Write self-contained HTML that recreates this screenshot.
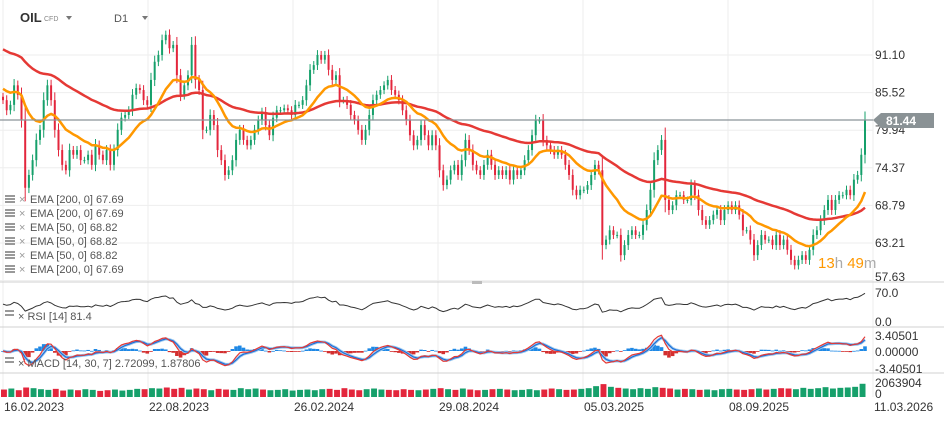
<!DOCTYPE html>
<html><head><meta charset="utf-8"><style>
html,body{margin:0;padding:0;background:#fff;}
svg{display:block;font-family:"Liberation Sans",Arial,sans-serif;}
</style></head><body>
<svg id="c" width="944" height="422" viewBox="0 0 944 422">
<g id="grid"></g>
<g id="panes">
<line x1="0" y1="282" x2="944" y2="282" stroke="#d0d0d0"/>
<line x1="0" y1="327" x2="944" y2="327" stroke="#d0d0d0"/>
<line x1="0" y1="373" x2="944" y2="373" stroke="#d0d0d0"/>
<rect x="472" y="281" width="10" height="3" fill="#bbb"/>
</g>
<g id="vol"></g>
<g id="macd"></g>
<g id="rsi"></g>
<g id="candles"></g>
<g id="emas"></g>
<line x1="0" y1="120" x2="873" y2="120" stroke="#8a9399" stroke-width="1.2"/>
<g id="axis" font-size="12" fill="#333"></g>
<g>
<polygon points="873,120 881,113 934,113 934,128 881,128" fill="#8a9295"/>
<text x="886" y="125" font-size="12" font-weight="bold" fill="#fff">81.44</text>
</g>
<g>
<text x="20" y="22" font-size="13" font-weight="bold" fill="#333">OIL</text>
<text x="44" y="21" font-size="7" fill="#888">CFD</text>
<polygon points="66,16 72,16 69,20" fill="#777"/>
<text x="114" y="22" font-size="11" fill="#555">D1</text>
<polygon points="142,16 148,16 145,20" fill="#777"/>
</g>
<g id="legend" font-size="11" fill="#555"></g>
<g font-size="15">
<text x="818" y="268"><tspan fill="#ff9800">13</tspan><tspan fill="#aaa">h </tspan><tspan fill="#ff9800">49</tspan><tspan fill="#aaa">m</tspan></text>
</g>
<g font-size="11" fill="#555">
<rect x="5" y="310" width="9" height="2" fill="#999"/><rect x="5" y="314" width="9" height="2" fill="#999"/>
<text x="18" y="320">× RSI [14] 81.4</text>
</g>
<g font-size="11" fill="#555">
<rect x="5" y="357" width="9" height="2" fill="#999"/><rect x="5" y="361" width="9" height="2" fill="#999"/>
<text x="18" y="367">× MACD [14, 30, 7] 2.72099, 1.87806</text>
</g>
<g id="dates" font-size="12" fill="#333"></g>
</svg>
<script>
const closes = [
84.4,82.9,83.7,86.6,85.2,81.4,71.4,73.3,75.5,78.5,
80.0,84.4,86.6,84.4,80.0,77.0,74.8,74.0,77.0,76.3,
77.0,75.5,75.5,76.3,74.8,77.7,76.3,75.5,77.0,74.8,
77.0,80.0,81.8,82.2,82.9,85.2,86.2,85.9,84.4,83.7,
87.4,90.1,91.1,93.3,94.1,92.1,92.6,88.1,85.2,86.6,
88.1,92.6,87.4,85.9,80.0,80.0,82.2,80.7,77.0,75.5,
73.3,74.0,75.5,78.5,80.0,78.5,77.7,78.5,80.0,81.4,
82.6,80.7,79.2,81.8,82.9,82.9,83.2,82.9,82.2,
83.7,83.7,84.4,86.6,88.9,89.6,91.1,90.4,91.1,88.9,
87.4,88.1,84.4,84.4,83.7,82.2,81.4,80.0,78.5,80.0,
82.2,84.4,85.2,85.9,86.6,87.4,85.9,85.2,84.4,82.9,
81.4,79.2,77.7,78.5,80.7,79.2,77.7,79.2,77.7,74.0,
71.8,72.6,74.0,74.8,73.3,75.5,78.5,77.0,74.8,74.0,
73.3,74.8,76.3,74.8,73.3,74.0,73.3,74.0,72.6,74.0,
73.3,74.0,75.5,77.0,79.2,81.4,81.4,78.5,77.7,77.0,
76.3,77.0,76.3,74.8,73.3,71.1,70.3,71.1,
71.1,71.8,73.3,74.8,74.0,62.9,63.7,65.1,64.4,64.4,
61.4,62.9,64.4,65.1,64.4,64.4,65.9,68.1,71.1,75.5,
77.0,78.5,69.6,68.1,68.8,70.3,70.3,69.6,69.6,71.8,
70.3,68.1,66.6,65.9,66.6,67.4,68.1,66.6,68.1,68.8,
68.1,68.8,67.4,65.1,65.1,63.7,61.4,62.9,64.4,63.7,
63.7,62.9,64.4,62.9,63.7,62.2,60.7,59.9,60.7,61.4,
60.7,62.2,64.4,65.1,66.6,68.1,69.6,68.1,69.6,70.3,
70.3,71.1,70.3,72.6,73.3,76.3,81.44];
const volumes = [
1100,1250,1000,1400,1300,1150,1050,1200,950,1100,
1000,1150,1050,900,1000,1100,950,1050,1200,1150,
1300,1250,1400,1200,1350,1100,1250,1150,1000,1200,
1100,1050,1300,1150,1250,1100,1000,1050,1150,950,
1050,1100,1000,1150,1200,1050,1300,1100,1000,1150,
1250,1100,1050,1000,1150,1050,1000,1100,1200,1300,
1150,1050,1250,1100,1000,1050,1150,1200,1100,1000,
1050,1150,1000,1100,1250,1150,1050,1100,1200,1300,
1600,1900,1500,1350,1250,1150,1300,1200,1450,1350,
1250,1100,1200,1150,1050,1100,1000,1150,1200,1100,
1050,1150,1250,1100,1200,1300,1250,1150,1350,1200,
1300,1450,1250,1350,1400,1500,1950];
const priceTicks = ["91.10","85.52","79.94","74.37","68.79","63.21","57.63"];
const dateLabels = ["16.02.2023","22.08.2023","26.02.2024","29.08.2024","05.03.2025","08.09.2025","11.03.2026"];
const legendItems = ["EMA  [200,  0] 67.69","EMA  [200,  0] 67.69","EMA  [50,  0] 68.82","EMA  [50,  0] 68.82","EMA  [50,  0] 68.82","EMA  [200,  0] 67.69"];
const ema200Seed = 92.2, ema50Seed = 86.3;
const volMax = 2063.904;

const NS="http://www.w3.org/2000/svg";
function mk(tag, attrs, parent){const e=document.createElementNS(NS,tag);for(const k in attrs)e.setAttribute(k,attrs[k]);parent.appendChild(e);return e;}
const n=closes.length, X0=3, X1=865;
const step=(X1-X0)/(n-1);
const xAt=i=>X0+i*step;
const yP=p=>55+(91.10-p)*6.74;

const grid=document.getElementById('grid'), axis=document.getElementById('axis');
priceTicks.forEach((t,k)=>{
  const y=yP(parseFloat(t));
  const l=mk('line',{x1:0,y1:y,x2:873,y2:y,stroke:'#eeeeee'},grid);
  
  
  const tx=mk('text',{x:875,y:Math.min(y+4,281)},axis); tx.textContent=t;
  
  
});
const dates=document.getElementById('dates');
dateLabels.forEach((d,k)=>{
  const x=3+k*145;
  const l=mk('line',{x1:x,y1:0,x2:x,y2:397,stroke:'#eeeeee'},grid);
  
  
  const t=mk('text',{x:x+1,y:411},dates); t.textContent=d;
  
  
});
[[297,"70.0"],[326,"0.0"],[340,"3.40501"],[356,"0.00000"],[373,"-3.40501"],[387,"2063904"],[398,"0"]].forEach(([y,t])=>{
  const tx=mk('text',{x:875,y:y},axis); tx.textContent=t;
  
  
});

const cg=document.getElementById('candles');
for(let i=0;i<n;i++){
  const c=closes[i], o=i?closes[i-1]:c+0.5;
  const up=c>=o, col=up?'#16a06b':'#e3263c';
  const hi=Math.max(o,c)+0.5+0.15*Math.abs(c-o), lo=Math.min(o,c)-0.5-0.15*Math.abs(c-o);
  const x=xAt(i);
  const g=mk('g',{},cg);
  
  
  mk('line',{x1:x,y1:yP(hi),x2:x,y2:yP(lo),stroke:col,'stroke-width':1},g);
  const yt=yP(Math.max(o,c)), yb=yP(Math.min(o,c));
  mk('rect',{x:x-1,y:yt,width:2,height:Math.max(1,yb-yt),fill:col},g);
}

function ema(arr,N,seed){const a=2/(N+1);let v=seed;return arr.map(p=>v=v+a*(p-v));}
const e200=ema(closes,60,ema200Seed), e50=ema(closes,17,ema50Seed);
const eg=document.getElementById('emas');
const line=(vals,fy,col,w,parent,name)=>{const p=mk('polyline',{points:vals.map((v,i)=>xAt(i).toFixed(1)+','+fy(v).toFixed(1)).join(' '),fill:'none',stroke:col,'stroke-width':w,'stroke-linejoin':'round'},parent);
  
  return p;};
line(e200,yP,'#e53935',2.5,eg,'ema-200-line');
line(e50,yP,'#ff9800',2.5,eg,'ema-50-line');

const lg=document.getElementById('legend');
legendItems.forEach((t,k)=>{
  const y=203+k*14;
  const g=mk('g',{},lg);
  
  
  mk('rect',{x:5,y:y-8,width:10,height:2,fill:'#999'},g);
  mk('rect',{x:5,y:y-5,width:10,height:2,fill:'#999'},g);
  mk('rect',{x:5,y:y-2,width:10,height:2,fill:'#999'},g);
  const t1=mk('text',{x:19,y:y,fill:'#999'},g); t1.textContent='×';
  const t2=mk('text',{x:30,y:y},g); t2.textContent=t;
});

function rsi(arr,N){let ag=0,al=0;const out=[];for(let i=0;i<arr.length;i++){const d=i?arr[i]-arr[i-1]:0;const g=Math.max(d,0),l=Math.max(-d,0);ag=i?(ag*(N-1)+g)/N:0.8;al=i?(al*(N-1)+l)/N:0.8;out.push(100-100/(1+ag/(al||1e-6)));}return out;}
const rsiVals=rsi(closes,14);
const yR=v=>322-v*(25/70);
line(rsiVals,yR,'#333',1,document.getElementById('rsi'),'rsi-line');

const f=ema(closes,4,closes[0]), s=ema(closes,9,closes[0]);
const macdV=f.map((v,i)=>v-s[i]);
const sig=ema(macdV,3,0);
const yM=v=>351-v*4.4;
const mg=document.getElementById('macd');
macdV.forEach((v,i)=>{
  const h=v-sig[i];
  const r=mk('rect',{x:xAt(i)-1.8,y:Math.min(yM(h*1.5),351),width:3.6,height:Math.max(0.8,Math.abs(h*1.5*4.4)),fill:h>=0?'#1e88e5':'#d32f2f'},mg);
  
  
});
line(sig,yM,'#9ecbf0',3,mg,'macd-signal-halo');
line(sig,yM,'#1e6fd9',1.2,mg,'macd-signal-line');
line(macdV,yM,'#e53935',1.2,mg,'macd-line');

const vg=document.getElementById('vol');
const vw=(X1-X0+4)/volumes.length;
volumes.forEach((v,k)=>{
  const i0=Math.min(n-1,Math.round(k*2)), i1=Math.min(n-1,i0+1);
  const up=closes[i1]>=closes[Math.max(0,i0-1)];
  const h=v/volMax*14;
  const r=mk('rect',{x:X0-2+k*vw,y:397-h,width:vw-1.5,height:h,fill:up?'#16a06b':'#e3263c'},vg);
  
  
});
</script>
</body></html>
